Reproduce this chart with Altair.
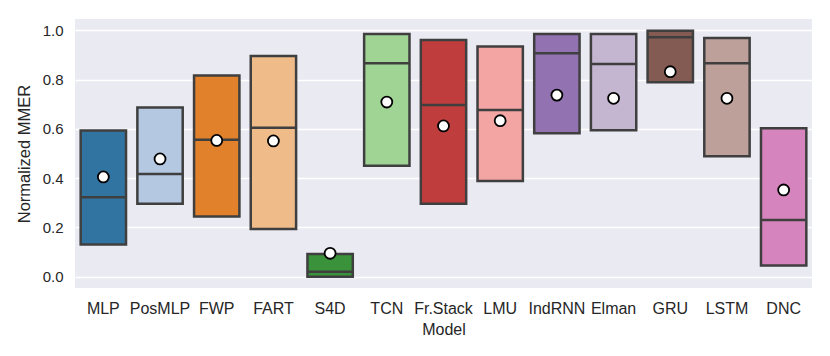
import colorsys
import altair as alt
import pandas as pd

models = ["MLP", "PosMLP", "FWP", "FART", "S4D", "TCN", "Fr.Stack", "LMU",
          "IndRNN", "Elman", "GRU", "LSTM", "DNC"]
box_low = [0.131, 0.296, 0.244, 0.194, 0.0, 0.450, 0.296, 0.388, 0.582, 0.594, 0.789, 0.489, 0.045]
box_high = [0.593, 0.687, 0.817, 0.896, 0.092, 0.985, 0.961, 0.934, 0.985, 0.985, 0.998, 0.969, 0.602]
medians = [0.322, 0.417, 0.556, 0.605, 0.020, 0.866, 0.697, 0.677, 0.907, 0.863, 0.972, 0.866, 0.230]
means = [0.405, 0.478, 0.553, 0.551, 0.095, 0.709, 0.612, 0.633, 0.737, 0.724, 0.832, 0.724, 0.352]

tab20 = ["#1f77b4", "#aec7e8", "#ff7f0e", "#ffbb78", "#2ca02c", "#98df8a", "#d62728",
         "#ff9896", "#9467bd", "#c5b0d5", "#8c564b", "#c49c94", "#e377c2"]


def desaturate(hexc, prop=0.75):
    r, g, b = (int(hexc[i:i + 2], 16) / 255 for i in (1, 3, 5))
    h, l, s = colorsys.rgb_to_hls(r, g, b)
    r, g, b = colorsys.hls_to_rgb(h, l, s * prop)
    return "#%02x%02x%02x" % (round(r * 255), round(g * 255), round(b * 255))


colors = [desaturate(c) for c in tab20]

df = pd.DataFrame({"Model": models, "low": box_low, "high": box_high,
                   "median": medians, "mean": means})

font = "Liberation Sans"
edge = "#3f3f3f"

x = alt.X("Model:N", sort=models, title="Model",
          scale=alt.Scale(paddingInner=0.2, paddingOuter=0.1),
          axis=alt.Axis(labelAngle=0, labelPadding=12, titlePadding=5, domain=False,
                        ticks=False, grid=False, labelFontSize=16, titleFontSize=16,
                        labelColor="#262626", titleColor="#262626", labelFont=font,
                        titleFont=font, titleFontWeight="normal"))
yscale = alt.Scale(domain=[-0.046, 1.046], nice=False, zero=False)

boxes = alt.Chart(df).mark_bar(stroke=edge, strokeWidth=2.5).encode(
    x=x,
    y=alt.Y("low:Q", scale=yscale, title="Normalized MMER",
            axis=alt.Axis(values=[0, 0.2, 0.4, 0.6, 0.8, 1.0], format=".1f", domain=False,
                          ticks=False, grid=True, gridColor="white", gridWidth=1.5,
                          labelPadding=12, titlePadding=10, labelFontSize=15,
                          titleFontSize=16.5, labelColor="#262626", titleColor="#262626",
                          labelFont=font, titleFont=font, titleFontWeight="normal")),
    y2="high:Q",
    fill=alt.Fill("Model:N", sort=models, scale=alt.Scale(domain=models, range=colors),
                  legend=None),
)

med = alt.Chart(df).mark_tick(color=edge, thickness=2.5, size=45, opacity=1).encode(
    x=x, y=alt.Y("median:Q", scale=yscale))

pts = alt.Chart(df).mark_point(filled=True, fill="white", stroke="black", strokeWidth=1.8,
                                size=120, shape="circle", opacity=1).encode(
    x=x, y=alt.Y("mean:Q", scale=yscale))

chart = alt.layer(boxes, med, pts).properties(
    width=737, height=269,
    autosize=alt.AutoSizeParams(type="none"),
    padding={"left": 67, "top": 11, "right": 10, "bottom": 60},
    background="white",
).configure_view(fill="#EAEAF2", stroke=None)

chart.save("out.html", embed_options={"renderer": "svg", "actions": False})
